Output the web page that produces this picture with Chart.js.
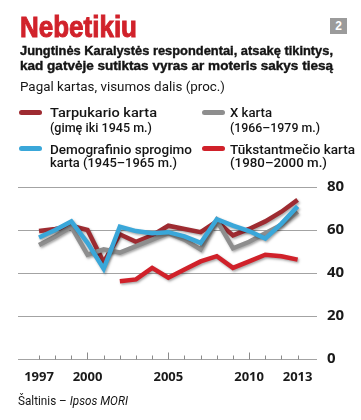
<!DOCTYPE html>
<html>
<head>
<meta charset="utf-8">
<script src="https://cdn.jsdelivr.net/npm/chart.js@4.4.1/dist/chart.umd.min.js"></script>
<style>
  html, body { margin: 0; padding: 0; background: #fff; }
  body { width: 361px; height: 420px; position: relative; overflow: hidden; }
  #c { position: absolute; left: 0; top: 0; }
  .t { position: absolute; white-space: nowrap; line-height: 1; transform-origin: 0 0; color: #141414; z-index: 2; }
  .title { font-family: "Liberation Sans Narrow", "Liberation Sans", sans-serif; font-weight: bold; font-size: 30px; color: #d1222b; -webkit-text-stroke: 1px #d1222b; }
  .sub { font-family: "Liberation Sans Narrow", "Liberation Sans", sans-serif; font-weight: bold; font-size: 13.5px; -webkit-text-stroke: 0.4px #141414; }
  .reg { font-family: Roboto, "Open Sans", sans-serif; font-size: 13.5px; }
  .leg { font-family: Roboto, "Open Sans", sans-serif; font-weight: 500; font-size: 13px; }
  .src { font-family: Roboto, "Open Sans", sans-serif; font-size: 12px; }
  .sw { position: absolute; height: 5px; width: 23px; border-radius: 3px; z-index: 2; }
  .badge { position: absolute; left: 330px; top: 18px; width: 17px; height: 16px; background: #9b9b9b; color: #fff; font-family: "Liberation Sans", sans-serif; font-weight: bold; font-size: 12px; line-height: 16px; text-align: center; z-index: 2; }
</style>
</head>
<body>
<canvas id="c" width="361" height="420"></canvas>

<div class="t title" style="left:20px; top:12px;" data-w="117">Nebetikiu</div>
<div class="badge">2</div>
<div class="t sub" style="left:20px; top:43.6px;" data-w="313">Jungtinės Karalystės respondentai, atsakę tikintys,</div>
<div class="t sub" style="left:20px; top:58.6px;" data-w="313">kad gatvėje sutiktas vyras ar moteris sakys tiesą</div>
<div class="t reg" style="left:20px; top:79.6px;" data-w="205">Pagal kartas, visumos dalis (proc.)</div>

<div class="sw" style="left:19px; top:109.5px; background:#9e2b31;"></div>
<div class="t leg" style="left:50px; top:106.1px;" data-w="107">Tarpukario karta</div>
<div class="t leg" style="left:50px; top:120.8px;" data-w="102">(gimę iki 1945 m.)</div>

<div class="sw" style="left:202px; top:109.5px; background:#8e8e8e;"></div>
<div class="t leg" style="left:230px; top:106.1px;" data-w="42">X karta</div>
<div class="t leg" style="left:230px; top:120.8px;" data-w="90">(1966–1979 m.)</div>

<div class="sw" style="left:19px; top:146px; background:#3aa7d9;"></div>
<div class="t leg" style="left:50px; top:142.6px;" data-w="142">Demografinio sprogimo</div>
<div class="t leg" style="left:50px; top:156px;" data-w="127">karta (1945–1965 m.)</div>

<div class="sw" style="left:202px; top:146px; background:#d0212a;"></div>
<div class="t leg" style="left:230px; top:142.6px;" data-w="125">Tūkstantmečio karta</div>
<div class="t leg" style="left:230px; top:156px;" data-w="97">(1980–2000 m.)</div>

<div class="t src" style="left:18px; top:395px;" data-w="110">Šaltinis – <i>Ipsos MORI</i></div>

<script>
// ---- data ----
const years = [1997, 1998, 1999, 2000, 2001, 2002, 2003, 2004, 2005, 2006, 2007, 2008, 2009, 2010, 2011, 2012, 2013];
const labelYears = [1997, 2000, 2005, 2010, 2013];
const majorYears = [2000, 2005, 2010];
const yTicks = [0, 20, 40, 60, 80];
const seriesNames = ["Tarpukario karta", "X karta", "Demografinio sprogimo karta", "Tūkstantmečio karta"];
const tarpukario = [59.5, 60.5, 62, 60, 45, 58, 54.5, 57.5, 62, 60.5, 59, 64, 57.5, 60.5, 64, 68.5, 74];
const xKarta = [53, 57, 61.5, 48.5, 51, 49.5, 52.5, 55.5, 58.5, 55.5, 51, 64.5, 51.5, 54.5, 58.5, 62.5, 68.5];
const demografinio = [56.5, 60, 64, 54, 42, 61.5, 59.5, 58.5, 59, 57, 54, 65, 62, 59.5, 56, 63, 71];
const tukstantmecio = [null, null, null, null, null, 36.2, 37, 42.4, 37.8, 41.6, 45.4, 47.8, 42.4, 45.4, 48.5, 47.8, 46.2];

// ---- fit text widths ----
function fitTexts() {
  document.querySelectorAll('[data-w]').forEach(el => {
    el.style.transform = 'none';
    const w = el.getBoundingClientRect().width;
    const target = parseFloat(el.dataset.w);
    if (w > 0) el.style.transform = 'scaleX(' + (target / w) + ')';
  });
}
fitTexts();
if (document.fonts && document.fonts.ready) document.fonts.ready.then(fitTexts);

const toXY = arr => years.map((y, i) => ({ x: y, y: arr[i] }));

const shadowPlugin = {
  id: 'shadow',
  beforeDatasetDraw(chart) {
    const ctx = chart.ctx;
    ctx.save();
    ctx.shadowColor = 'rgba(0,0,0,0.35)';
    ctx.shadowBlur = 2.5;
    ctx.shadowOffsetX = 1.2;
    ctx.shadowOffsetY = 1.5;
  },
  afterDatasetDraw(chart) { chart.ctx.restore(); }
};

const tickMarks = {
  id: 'tickMarks',
  beforeDatasetsDraw(chart) {
    const ctx = chart.ctx, xs = chart.scales.x, ys = chart.scales.y;
    const y0 = Math.round(ys.getPixelForValue(0)) + 0.5;
    ctx.save();
    ctx.strokeStyle = '#8a8a8a';
    ctx.lineWidth = 1;
    years.forEach(yr => {
      const px = Math.round(xs.getPixelForValue(yr)) + 0.5;
      const h = majorYears.includes(yr) ? 7 : 4;
      ctx.beginPath();
      ctx.moveTo(px, y0);
      ctx.lineTo(px, y0 - h);
      ctx.stroke();
    });
    ctx.restore();
  }
};

const common = { fill: false, tension: 0, pointRadius: 0, borderWidth: 4.5, spanGaps: false, borderJoinStyle: 'miter' };

new Chart(document.getElementById('c'), {
  type: 'line',
  data: {
    datasets: [
      Object.assign({ label: seriesNames[3], data: toXY(tukstantmecio), borderColor: '#d0212a', order: 1 }, common),
      Object.assign({ label: seriesNames[2], data: toXY(demografinio), borderColor: '#3aa7d9', order: 2 }, common),
      Object.assign({ label: seriesNames[1], data: toXY(xKarta), borderColor: '#8e8e8e', order: 3 }, common),
      Object.assign({ label: seriesNames[0], data: toXY(tarpukario), borderColor: '#9e2b31', order: 4 }, common)
    ]
  },
  options: {
    responsive: false,
    animation: false,
    events: [],
    layout: { padding: { left: 18, top: 187, right: 0, bottom: 0 } },
    plugins: { legend: { display: false }, tooltip: { enabled: false }, title: { display: false } },
    scales: {
      x: {
        type: 'linear',
        min: 1995.7,
        max: 2014.2,
        grid: { display: false, drawTicks: false },
        border: { display: false },
        afterBuildTicks: s => { s.ticks = labelYears.map(v => ({ value: v })); },
        afterFit: s => { s.height = 61; },
        ticks: {
          autoSkip: false,
          maxRotation: 0,
          padding: 10,
          color: '#1a1a1a',
          font: { family: '"Open Sans", sans-serif', weight: 'bold', size: 13 },
          callback: v => String(v)
        }
      },
      y: {
        position: 'right',
        min: 0,
        max: 80,
        afterBuildTicks: s => { s.ticks = yTicks.map(v => ({ value: v })); },
        afterFit: s => { s.width = 44; },
        grid: { color: '#a3a3a3', lineWidth: 1, drawTicks: false },
        border: { display: false },
        ticks: {
          padding: 10,
          color: '#1a1a1a',
          font: { family: '"Open Sans", sans-serif', weight: 'bold', size: 15 },
          callback: v => String(v)
        }
      }
    }
  },
  plugins: [tickMarks, shadowPlugin]
});
</script>
</body>
</html>
